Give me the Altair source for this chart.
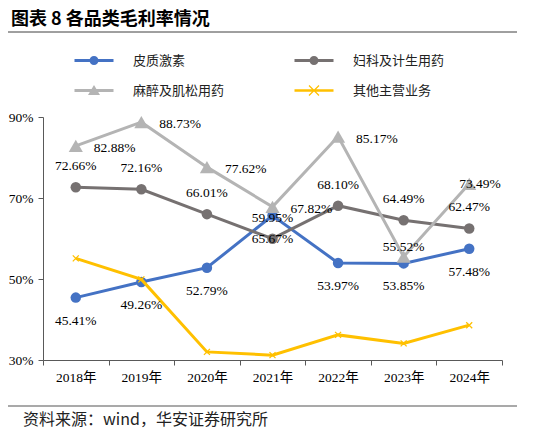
import altair as alt
import pandas as pd

YEARS = ["2018年", "2019年", "2020年", "2021年", "2022年", "2023年", "2024年"]
SERIES = ["皮质激素", "妇科及计生用药", "麻醉及肌松用药", "其他主营业务"]
CORTICO = [45.41, 49.26, 52.79, 65.67, 53.97, 53.85, 57.48]
GYNECO = [72.66, 72.16, 66.01, 59.95, 68.10, 64.49, 62.47]
ANESTH = [82.88, 88.73, 77.62, 67.82, 85.17, 55.52, 73.49]
OTHER = [55.1, 49.9, 32.0, 31.2, 36.2, 34.1, 38.6]
Y_TICKS = [30, 50, 70, 90]

TITLE = "图表 8  各品类毛利率情况"
SOURCE = "资料来源：wind，华安证券研究所"

COLORS = ["#4472C4", "#767171", "#B4B4B4", "#FFC000"]
SERIF = "Liberation Serif, Noto Sans CJK SC"
CJK = "Noto Sans CJK SC"

# legend symbols: a bar for the line plus the marker, all filled
BAR = "M-1.95,-0.15H1.95V0.15H-1.95Z"
LEGEND_SHAPES = [
    BAR + "M-0.45,0A0.45,0.45 0 1,1 0.45,0A0.45,0.45 0 1,1 -0.45,0Z",
    BAR + "M-0.45,0A0.45,0.45 0 1,1 0.45,0A0.45,0.45 0 1,1 -0.45,0Z",
    BAR + "M0,-0.55L0.6,0.45L-0.6,0.45Z",
    "M-1.95,-0.13H1.95V0.13H-1.95Z"
    "M-0.458,-0.542L0.542,0.458L0.458,0.542L-0.542,-0.458Z"
    "M-0.542,0.458L0.458,-0.542L0.542,-0.458L-0.458,0.542Z",
]
CROSS = "M-1,-1L1,1M-1,1L1,-1"

rows = []
for name, vals in zip(SERIES, [CORTICO, GYNECO, ANESTH, OTHER]):
    for yr, v in zip(YEARS, vals):
        rows.append({"year": yr, "series": name, "value": v})
df = pd.DataFrame(rows)

W, H = 459, 243

x_enc = alt.X(
    "year:O", sort=YEARS, bandPosition=0.5,
    scale=alt.Scale(type="band", domain=YEARS, paddingInner=0, paddingOuter=0),
    axis=alt.Axis(title=None, labelAngle=0, tickBand="extent", tickSize=5,
                  domainColor="#595959", tickColor="#595959", grid=False,
                  labelFont=SERIF, labelFontSize=13.5, labelColor="#000",
                  labelPadding=5),
)
y_enc = alt.Y(
    "value:Q", scale=alt.Scale(domain=[30, 90], nice=False, zero=False),
    axis=alt.Axis(title=None, values=Y_TICKS, labelExpr="datum.value + '%'",
                  tickSize=5, grid=False, domainColor="#595959", tickColor="#595959",
                  labelFont=SERIF, labelFontSize=13.5, labelColor="#000",
                  labelPadding=5),
)

base = alt.Chart(df).encode(x=x_enc, y=y_enc)

layers = []
markers = [
    dict(shape="circle", size=110, filled=True),
    dict(shape="circle", size=110, filled=True),
    dict(shape="triangle-up", size=200, filled=True),
    dict(shape=CROSS, size=36, filled=False, strokeWidth=1.3),
]
for name, color, mk in zip(SERIES, COLORS, markers):
    part = base.transform_filter(alt.datum.series == name)
    layers.append(part.mark_line(color=color, strokeWidth=3))
    layers.append(part.mark_point(color=color, opacity=1, **mk))

# legend built from the series scale, no marks drawn
legend_layer = alt.Chart(df).transform_filter("false").mark_point(filled=True, opacity=1).encode(
    color=alt.Color("series:N", scale=alt.Scale(domain=SERIES, range=COLORS),
                    legend=alt.Legend(title=None, orient="none", direction="horizontal",
                                      legendX=41, legendY=-66.5,
                                      columns=2, columnPadding=69, rowPadding=13,
                                      symbolSize=400, symbolStrokeWidth=0, labelOffset=29,
                                      labelFont=CJK, labelFontSize=13, labelColor="#222",
                                      labelLimit=300, padding=0)),
    shape=alt.Shape("series:N", scale=alt.Scale(domain=SERIES, range=LEGEND_SHAPES)),
)
layers.append(legend_layer)

text_style = dict(font=SERIF, fontSize=13.5, color="#000")
lbl = base.transform_calculate(label="format(datum.value, '.2f') + '%'")

layers.append(lbl.transform_filter(alt.datum.series == SERIES[0])
              .mark_text(dy=23, **text_style).encode(text="label:N"))
layers.append(lbl.transform_filter(alt.datum.series == SERIES[1])
              .mark_text(dy=-21, **text_style).encode(text="label:N"))
anes = lbl.transform_filter(alt.datum.series == SERIES[2])
layers.append(anes.transform_filter("datum.year != '2023年' && datum.year != '2024年'")
              .mark_text(align="left", dx=18, dy=2, **text_style).encode(text="label:N"))
layers.append(anes.transform_filter(alt.datum.year == "2023年")
              .mark_text(dy=-10, **text_style).encode(text="label:N"))
layers.append(anes.transform_filter(alt.datum.year == "2024年")
              .mark_text(align="left", dx=-10, dy=0, **text_style).encode(text="label:N"))

# page furniture: title, rules, source
title = alt.Chart(pd.DataFrame({"t": [TITLE]})).mark_text(
    align="left", baseline="middle", font=CJK, fontSize=18, fontWeight="bold", color="#000"
).encode(text="t:N", x=alt.value(-32), y=alt.value(-97))
top_rule = alt.Chart(pd.DataFrame({"r": [0]})).mark_rule(color="#404040", strokeWidth=1).encode(
    x=alt.value(-35), x2=alt.value(474), y=alt.value(-85))
bottom_rule = alt.Chart(pd.DataFrame({"r": [0]})).mark_rule(color="#8c8c8c", strokeWidth=1.5).encode(
    x=alt.value(-35), x2=alt.value(474), y=alt.value(289))
source = alt.Chart(pd.DataFrame({"t": [SOURCE]})).mark_text(
    align="left", baseline="middle", font=CJK, fontSize=16, color="#222"
).encode(text="t:N", x=alt.value(-20), y=alt.value(303))

chart = alt.layer(title, top_rule, *layers, bottom_rule, source).properties(
    width=W, height=H,
    autosize="none",
    padding={"left": 35, "top": 109, "right": 30, "bottom": 70},
).configure_view(strokeWidth=0)

chart.save("out.html", embed_options={"renderer": "svg", "actions": False})
